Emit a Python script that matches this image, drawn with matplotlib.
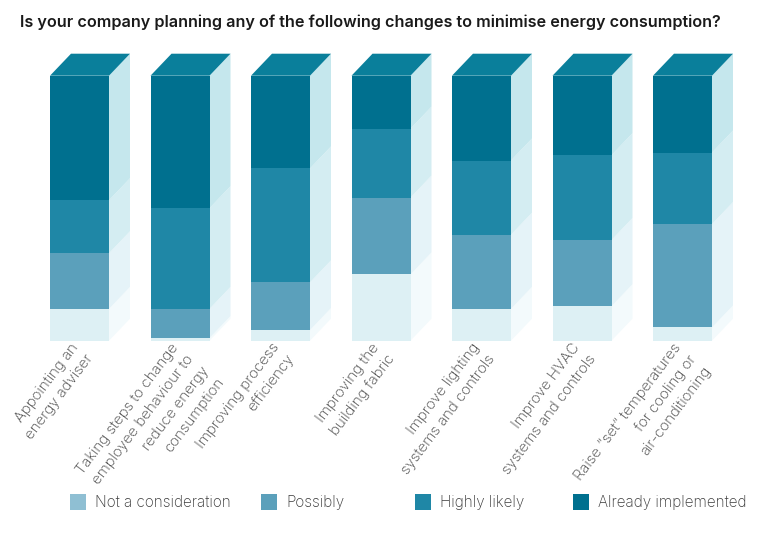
import matplotlib
matplotlib.use("Agg")
import matplotlib.pyplot as plt
from matplotlib.patches import Polygon, Rectangle
import numpy as np

categories = [
    "Appointing an\nenergy adviser",
    "Taking steps to change\nemployee behaviour to\nreduce energy\nconsumption",
    "Improving process\nefficiency",
    "Improving the\nbuilding fabric",
    "Improve lighting\nsystems and controls",
    "Improve HVAC\nsystems and controls",
    "Raise \u201cset\u201d temperatures\nfor cooling or\nair-conditioning",
]
series_names = ["Not a consideration", "Possibly", "Highly likely", "Already implemented"]
not_consideration = [12, 1, 4, 25, 12, 13, 5]
possibly = [21, 11, 18, 29, 28, 25, 39]
highly_likely = [20, 38, 43, 26, 28, 32, 27]
already_implemented = [47, 50, 35, 20, 32, 30, 29]
series_values = [not_consideration, possibly, highly_likely, already_implemented]

front_colors = ["#ddf0f4", "#5ba0bb", "#1f87a6", "#00708f"]
side_colors = ["#f3fafc", "#e5f3f8", "#d4edf2", "#c5e7ed"]
legend_colors = ["#8fbfd3", "#5ba0bb", "#1f87a6", "#00708f"]
top_color = "#0a7f9b"

W, H = 765, 534
fig = plt.figure(figsize=(W / 100, H / 100), dpi=100)
plt.rcParams['font.family'] = ['Inter', 'DejaVu Sans']

# axes placement in pixels
left_px, right_px = 29.25, 732.75
bottom_px, top_px = 340.7, 75.7
ax = fig.add_axes([left_px / W, 1 - bottom_px / H, (right_px - left_px) / W, (bottom_px - top_px) / H])
n = len(categories)
ax.set_xlim(-0.5, n - 0.5)
ax.set_ylim(0, 100)
ax.axis("off")

bar_w = 59 / 100.5
dx = 21 / 100.5
dy = 22 / 265 * 100
x = np.arange(n)

bottoms = np.zeros(n)
for vals, fc, sc in zip(series_values, front_colors, side_colors):
    vals = np.array(vals, dtype=float)
    ax.bar(x, vals, bottom=bottoms, width=bar_w, color=fc, edgecolor="none", zorder=3)
    for i in range(n):
        xr = x[i] + bar_w / 2
        b, t = bottoms[i], bottoms[i] + vals[i]
        side = Polygon([(xr, b), (xr + dx, b + dy), (xr + dx, t + dy), (xr, t)],
                       closed=True, facecolor=sc, edgecolor="none", zorder=2, clip_on=False)
        ax.add_patch(side)
    bottoms = bottoms + vals

for i in range(n):
    xl = x[i] - bar_w / 2
    xr = x[i] + bar_w / 2
    t = bottoms[i]
    top = Polygon([(xl, t), (xl + dx, t + dy), (xr + dx, t + dy), (xr, t)],
                  closed=True, facecolor=top_color, edgecolor="none", zorder=4, clip_on=False)
    ax.add_patch(top)

# category labels
for i, lab in enumerate(categories):
    ax.text(x[i] - 0.1, 0.0, lab, rotation=53, rotation_mode="anchor",
            ha="right", va="top", multialignment="right",
            fontsize=10.8, color="#3a3a3a", fontweight="light", linespacing=1.45)

# title
fig.text(20 / W, 1 - 22 / H, "Is your company planning any of the following changes to minimise energy consumption?",
         ha="left", va="center", fontsize=11.65, fontweight="semibold", color="#1a1a1a")

# legend
leg_sq_x = [70, 261, 415, 573]
for sx, name, c in zip(leg_sq_x, series_names, legend_colors):
    fig.patches.append(Rectangle((sx / W, 1 - 510 / H), 16 / W, 16 / H, transform=fig.transFigure,
                                 facecolor=c, edgecolor="none"))
    fig.text((sx + 25) / W, 1 - 502 / H, name, ha="left", va="center", fontsize=11,
             color="#3a3a3a", fontweight="light")

fig.savefig("out.png", dpi=100)
